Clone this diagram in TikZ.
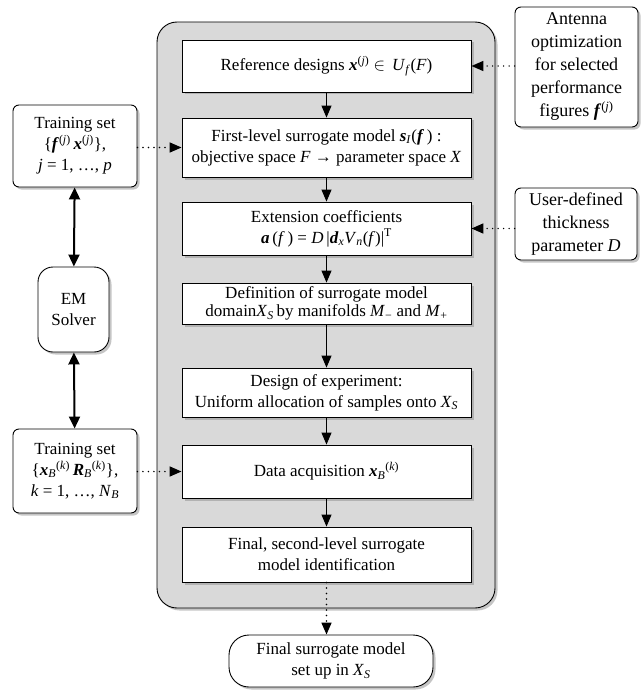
\documentclass[tikz,border=0pt]{standalone}
\usepackage{fontspec}
\setmainfont{Liberation Serif}
\usetikzlibrary{arrows.meta,shadows}
\definecolor{panelgray}{RGB}{217,217,217}
\tikzset{
  soft-shadow/.style={
    drop shadow={shadow xshift=2.5pt,shadow yshift=-2.5pt,
      fill=black!45,opacity=0.5}
  },
  step-box/.style={
    draw=black,
    line width=0.9pt,
    fill=white,
    soft-shadow,
    align=center,
    minimum width=289pt,
    inner sep=2pt,
    font=\fontsize{17}{21}\selectfont
  },
  side-box/.style={
    draw=black,
    line width=0.9pt,
    fill=white,
    soft-shadow,
    rounded corners=6pt,
    align=center,
    inner sep=2pt,
    font=\fontsize{17}{21}\selectfont
  },
  flow/.style={
    line width=1pt,
    -{Triangle[length=12pt,width=10pt]}
  },
  feed/.style={
    flow,
    line width=1.6pt,
    line cap=round,
    dash pattern=on 0pt off 5.5pt
  },
  both-ways/.style={
    line width=2pt,
    {Triangle[length=12pt,width=11pt]}-{Triangle[length=12pt,width=11pt]}
  }
}
\newcommand{\vb}[1]{\textbf{\textit{#1}}}
\newcommand{\mi}[1]{\textit{#1}}

\begin{document}
\begin{tikzpicture}[x=1pt,y=-1pt]
  \useasboundingbox (0,0) rectangle (640,690);
  % grey panel behind the main chain
  \draw[line width=0.9pt, rounded corners=20pt, fill=panelgray, soft-shadow]
    (157,22) rectangle (495,608);

  % main chain
  \node[step-box, minimum height=52pt] (refdes) at (326.5,66)
    {Reference designs \vb{x}\textsuperscript{(\mi{j})} $\in$\ \,\mi{U}\textsubscript{\mi{f}}(\mi{F})};
  \node[step-box, minimum height=59pt] (firstlvl) at (326.5,147.5)
    {First-level surrogate model \vb{s}\textsubscript{\mi{I}}(\vb{f}\,) :\\
     objective space \mi{F} → parameter space \mi{X}};
  \node[step-box, minimum height=53pt] (extcoef) at (326.5,228.5)
    {Extension coefficients\\
     \vb{a}\,(\mi{f}\,) = \mi{D}\,|\vb{d}\textsubscript{\mi{x}}\mi{V}\textsubscript{\mi{n}}(\mi{f})|\textsuperscript{T}};
  \node[step-box, minimum height=41pt, font=\fontsize{17}{18}\selectfont] (domdef) at (326.5,303.5)
    {Definition of surrogate model\\
     domain\mi{X}\textsubscript{\mi{S}}\,by manifolds \mi{M}\textsubscript{−} and \mi{M}\textsubscript{+}};
  \node[step-box, minimum height=49pt] (doe) at (326.5,392.5)
    {Design of experiment:\\
     Uniform allocation of samples onto \mi{X}\textsubscript{\mi{S}}};
  \node[step-box, minimum height=53pt] (acquis) at (326.5,471.5)
    {Data acquisition \vb{x}\textsubscript{\mi{B}}\textsuperscript{(\mi{k})}};
  \node[step-box, minimum height=55pt] (secondlvl) at (326.5,554.5)
    {Final, second-level surrogate\\ model identification};
  \node[side-box, rounded corners=20pt, minimum width=204pt, minimum height=52pt] (final) at (331,661)
    {Final surrogate model\\ set up in \mi{X}\textsubscript{\mi{S}}};

  % left column
  \node[side-box, minimum width=124pt, minimum height=82pt] (trainone) at (75,146)
    {Training set\\
     \{\vb{f}\textsuperscript{(\mi{j})}\,\vb{x}\textsuperscript{(\mi{j})}\},\\
     \mi{j} = 1, …, \mi{p}};
  \node[side-box, rounded corners=15pt, minimum width=71pt, minimum height=85pt] (solver) at (73.5,309.5)
    {EM\\ Solver};
  \node[side-box, minimum width=124pt, minimum height=84pt] (traintwo) at (75,471)
    {Training set\\
     \{\vb{x}\textsubscript{\mi{B}}\textsuperscript{(\mi{k})}\,\vb{R}\textsubscript{\mi{B}}\textsuperscript{(\mi{k})}\},\\
     \mi{k} = 1, …, \mi{N}\textsubscript{\mi{B}}};

  % right column
  \node[side-box, minimum width=123pt, minimum height=120pt, font=\fontsize{18}{23}\selectfont] (antenna) at (576.5,67)
    {Antenna\\ optimization\\ for selected\\ performance\\ figures \vb{f}\textsuperscript{(\mi{j})}};
  \node[side-box, minimum width=122pt, minimum height=72pt, font=\fontsize{18}{23}\selectfont] (userdef) at (576,224)
    {User-defined\\ thickness\\ parameter \mi{D}};

  % connectors
  \foreach \a/\b in {refdes/firstlvl,firstlvl/extcoef,extcoef/domdef,
                     domdef/doe,doe/acquis,acquis/secondlvl} {
    \draw[flow] (\a) -- (\b);
  }
  \draw[feed] (secondlvl.south) -- (secondlvl.south |- final.north);
  \draw[feed] (antenna.west |- refdes.east) -- (refdes.east);
  \draw[feed] (userdef.west |- extcoef.east) -- (extcoef.east);
  \draw[feed] (trainone.east |- firstlvl.west) -- (firstlvl.west);
  \draw[feed] (traintwo.east |- acquis.west) -- (acquis.west);
  \draw[both-ways] (trainone) -- (solver);
  \draw[both-ways] (solver) -- (traintwo);
\end{tikzpicture}
\end{document}
